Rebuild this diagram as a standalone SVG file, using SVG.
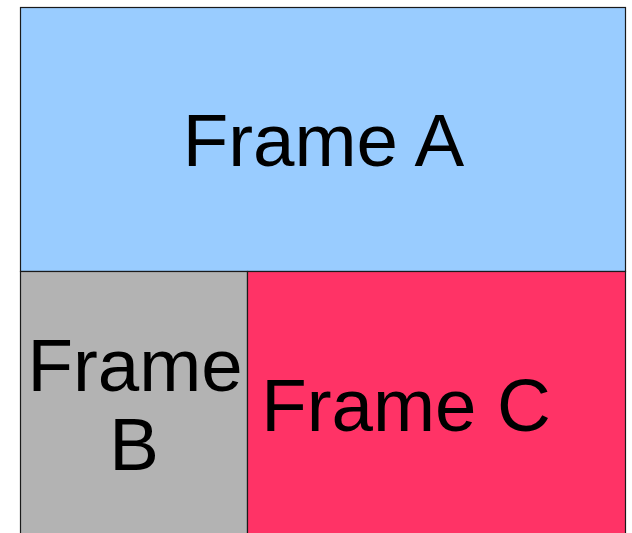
<svg xmlns="http://www.w3.org/2000/svg" width="632" height="533" viewBox="0 0 632 533">
<style>
.f{stroke:#1a1a1a;stroke-width:1.2}
.t{font-family:"Liberation Sans",Arial,sans-serif;font-size:74.5px;fill:#000;text-anchor:middle}
</style>
<rect width="632" height="533" fill="#fff"/>
<g id="frameA"><rect class="f" x="20.5" y="7.5" width="605" height="264" fill="#99ccff"/><text class="t" x="323.5" y="166">Frame A</text></g>
<g id="frameB"><rect class="f" x="20.5" y="271.5" width="227" height="270" fill="#b3b3b3"/><text class="t" x="135" y="391">Frame</text><text class="t" x="134" y="470">B</text></g>
<g id="frameC"><rect class="f" x="247.5" y="271.5" width="378" height="270" fill="#ff3366"/><text class="t" x="406" y="431">Frame C</text></g>
</svg>
